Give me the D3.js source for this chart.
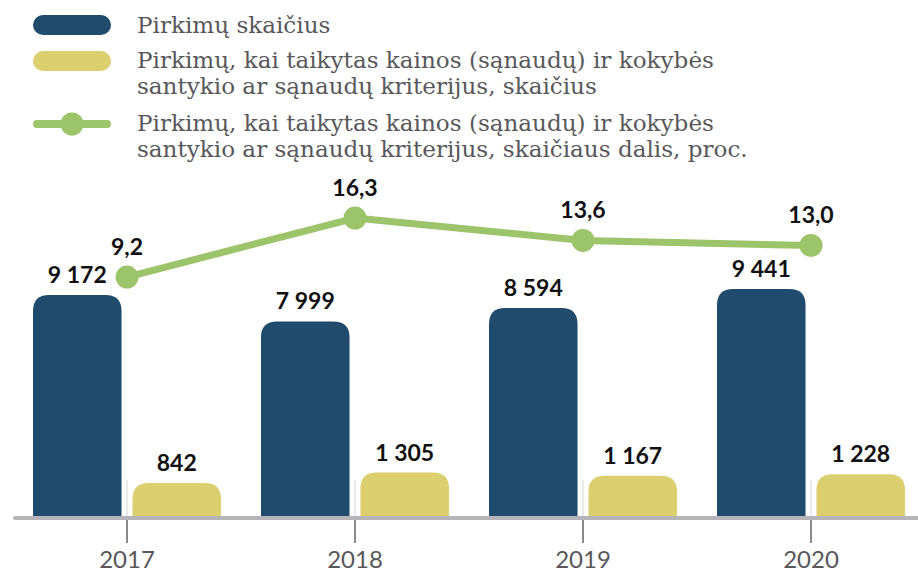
<!DOCTYPE html>
<html>
<head>
<meta charset="utf-8">
<script src="https://cdn.jsdelivr.net/npm/d3@7"></script>
<style>
  html, body { margin: 0; padding: 0; background: #fff; }
  svg { display: block; }
</style>
</head>
<body>
<svg id="chart" width="918" height="574"></svg>
<script>
const years = ["2017", "2018", "2019", "2020"];
const totalPurchases = [9172, 7999, 8594, 9441];
const qualityPurchases = [842, 1305, 1167, 1228];
const qualitySharePct = [9.2, 16.3, 13.6, 13.0];
const legendLabels = [
  ["Pirkimų skaičius"],
  ["Pirkimų, kai taikytas kainos (sąnaudų) ir kokybės", "santykio ar sąnaudų kriterijus, skaičius"],
  ["Pirkimų, kai taikytas kainos (sąnaudų) ir kokybės", "santykio ar sąnaudų kriterijus, skaičiaus dalis, proc."]
];

const colors = { dark: "#204b6c", yellow: "#dccf70", green: "#9cc46a", axis: "#b5b5b9", tick: "#8a8a8d", text: "#58585b" };

const svg = d3.select("#chart");
const baseline = 517;

const x0 = d3.scaleBand().domain(years).range([13, 925]).padding(0);
const x1 = d3.scaleBand().domain(["total", "quality"]).range([20, 208]).paddingInner(0.11).paddingOuter(0);
const y = d3.scaleLinear().domain([-665, 10000]).range([baseline, baseline - 240.7]);
const y2 = d3.scaleLinear().domain([0, 20]).range([353.5, 187.3]);

const fmt = v => d3.format(",")(v).replace(/,/g, " ");
const fmtPct = v => d3.format(".1f")(v).replace(".", ",");

function topRounded(x, yTop, w, yBot, r) {
  r = Math.min(r, w / 2, yBot - yTop);
  return `M${x},${yBot} L${x},${yTop + r} Q${x},${yTop} ${x + r},${yTop} L${x + w - r},${yTop} Q${x + w},${yTop} ${x + w},${yTop + r} L${x + w},${yBot} Z`;
}

// faint separators between bars
svg.append("g").selectAll("line").data(years).join("line")
  .attr("x1", d => x0(d) + x0.bandwidth() / 2).attr("x2", d => x0(d) + x0.bandwidth() / 2)
  .attr("y1", 480).attr("y2", baseline)
  .attr("stroke", "#e2e2e4").attr("stroke-width", 1.5);

// bars
const series = [
  { key: "total", values: totalPurchases, color: colors.dark },
  { key: "quality", values: qualityPurchases, color: colors.yellow }
];
series.forEach(s => {
  const g = svg.append("g");
  g.selectAll("path").data(years).join("path")
    .attr("d", (d, i) => topRounded(x0(d) + x1(s.key), y(s.values[i]), x1.bandwidth(), baseline + 1, 16))
    .attr("fill", s.color);
  g.selectAll("text").data(years).join("text")
    .attr("x", d => x0(d) + x1(s.key) + x1.bandwidth() / 2)
    .attr("y", (d, i) => y(s.values[i]) - 12)
    .attr("text-anchor", "middle")
    .attr("font-family", "Lato, sans-serif").attr("font-weight", 700).attr("font-size", 23)
    .attr("fill", "#111")
    .text((d, i) => fmt(s.values[i]));
});

// axis
const axisG = svg.append("g").attr("transform", `translate(0,${baseline + 1})`);
axisG.call(d3.axisBottom(x0).tickSize(25).tickPadding(8).tickFormat(d => d));
axisG.select(".domain").remove();
axisG.selectAll(".tick line").attr("stroke", colors.tick).attr("stroke-width", 2);
axisG.selectAll(".tick text").attr("font-family", "Lato, sans-serif").attr("font-size", 24)
  .attr("fill", colors.text).attr("dy", "0.71em");
svg.append("line").attr("x1", 15).attr("x2", 930).attr("y1", baseline + 1).attr("y2", baseline + 1)
  .attr("stroke", colors.axis).attr("stroke-width", 4).attr("stroke-linecap", "round");

// line series
const cx = d => x0(d) + x0.bandwidth() / 2;
const line = d3.line().x((d, i) => cx(years[i])).y(d => y2(d));
svg.append("path").datum(qualitySharePct).attr("d", line)
  .attr("fill", "none").attr("stroke", colors.green).attr("stroke-width", 7).attr("stroke-linejoin", "round");
svg.append("g").selectAll("circle").data(qualitySharePct).join("circle")
  .attr("cx", (d, i) => cx(years[i])).attr("cy", d => y2(d)).attr("r", 11.5).attr("fill", colors.green);
svg.append("g").selectAll("text").data(qualitySharePct).join("text")
  .attr("x", (d, i) => cx(years[i])).attr("y", d => y2(d) - 22)
  .attr("text-anchor", "middle")
  .attr("font-family", "Lato, sans-serif").attr("font-weight", 700).attr("font-size", 23)
  .attr("fill", "#111")
  .text(d => fmtPct(d));

// legend
const legend = svg.append("g");
legend.append("rect").attr("x", 33).attr("y", 15).attr("width", 78).attr("height", 20).attr("rx", 10).attr("fill", colors.dark);
legend.append("rect").attr("x", 33).attr("y", 51).attr("width", 78).attr("height", 20).attr("rx", 10).attr("fill", colors.yellow);
legend.append("line").attr("x1", 37).attr("x2", 107).attr("y1", 124).attr("y2", 124)
  .attr("stroke", colors.green).attr("stroke-width", 8).attr("stroke-linecap", "round");
legend.append("circle").attr("cx", 72).attr("cy", 124).attr("r", 11.5).attr("fill", colors.green);

const lines = [
  { t: legendLabels[0][0], y: 33 },
  { t: legendLabels[1][0], y: 68 },
  { t: legendLabels[1][1], y: 94 },
  { t: legendLabels[2][0], y: 131 },
  { t: legendLabels[2][1], y: 157 }
];
const legendTexts = legend.selectAll("text.lg").data(lines).join("text").attr("class", "lg")
  .attr("x", 137).attr("y", d => d.y)
  .attr("font-family", "'DejaVu Serif', serif").attr("font-size", 20)
  .attr("fill", colors.text)
  .text(d => d.t);
const longest = legendTexts.filter((d, i) => i === 4).node();
const w = longest.getComputedTextLength();
legendTexts.attr("font-size", 20 * 611 / w);
</script>
</body>
</html>
